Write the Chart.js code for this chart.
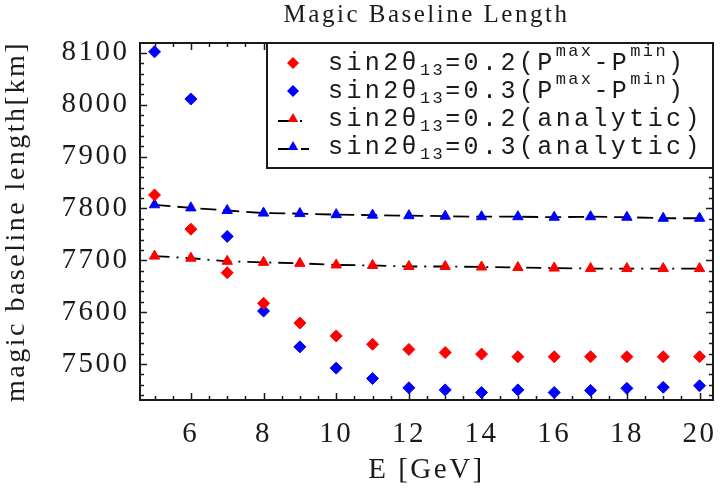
<!DOCTYPE html>
<html>
<head>
<meta charset="utf-8">
<title>Magic Baseline Length</title>
<script src="https://cdn.jsdelivr.net/npm/chart.js@4.4.1/dist/chart.umd.min.js"></script>
<style>
  html, body { margin: 0; padding: 0; background: #fff; }
  #box { width: 720px; height: 503px; }
</style>
</head>
<body>
<div id="box"><canvas id="magicChart"></canvas></div>
<script>
// neutrino energy [GeV]
const energies = [5, 6, 7, 8, 9, 10, 11, 12, 13, 14, 15, 16, 17, 18, 19, 20];

// magic baseline [km] from P^max - P^min
const pdiff02 = [7826, 7760, 7676, 7617, 7579, 7554, 7538, 7528, 7522, 7519, 7514, 7514, 7514, 7514, 7514, 7514];
const pdiff03 = [8102, 8011, 7746, 7602, 7533, 7492, 7472, 7454, 7450, 7445, 7450, 7445, 7449, 7453, 7455, 7458];

// magic baseline [km] from the analytic formula
const analytic02 = [7708, 7704, 7698, 7696, 7694, 7691, 7690, 7688, 7688, 7687, 7686, 7685, 7684, 7684, 7684, 7684];
const analytic03 = [7807, 7801, 7796, 7791, 7790, 7788, 7787, 7786, 7785, 7784, 7784, 7783, 7784, 7783, 7781, 7781];

const seriesLabels = [
  "sin2θ_{13}=0.2(P^{max}-P^{min})",
  "sin2θ_{13}=0.3(P^{max}-P^{min})",
  "sin2θ_{13}=0.2(analytic)",
  "sin2θ_{13}=0.3(analytic)",
];

const xTickValues = [6, 8, 10, 12, 14, 16, 18, 20];
const yTickValues = [7500, 7600, 7700, 7800, 7900, 8000, 8100];

const RED = "#ff0000";
const BLUE = "#0000ff";
const INK = "#1a1a1a";
const SERIF = '"Liberation Serif", "Times New Roman", serif';
const MONO = '"Liberation Mono", "Courier New", monospace';

function points(values) {
  return energies.map((e, i) => ({ x: e, y: values[i] }));
}

// old-style plot text is spaced out a bit
const spacing = {
  id: "spacing",
  beforeUpdate(chart) { chart.ctx.letterSpacing = "2.5px"; },
  beforeDraw(chart) { chart.ctx.letterSpacing = "2.5px"; },
};

// box around the plot with inward ticks on all four sides
const frameTicks = {
  id: "frameTicks",
  beforeDatasetsDraw(chart) {
    const { ctx, chartArea: a, scales: { x, y } } = chart;
    ctx.save();
    ctx.strokeStyle = INK;
    ctx.lineWidth = 1.5;
    ctx.beginPath();
    for (let v = 5; v <= 20; v += 0.5) {
      const px = Math.round(x.getPixelForValue(v)) + 0.5;
      const len = xTickValues.includes(v) ? 7 : 4;
      ctx.moveTo(px, a.bottom); ctx.lineTo(px, a.bottom - len);
      ctx.moveTo(px, a.top); ctx.lineTo(px, a.top + len);
    }
    for (let v = 7440; v <= 8100; v += 20) {
      const py = Math.round(y.getPixelForValue(v)) + 0.5;
      const len = yTickValues.includes(v) ? 7 : 4;
      ctx.moveTo(a.left, py); ctx.lineTo(a.left + len, py);
      ctx.moveTo(a.right, py); ctx.lineTo(a.right - len, py);
    }
    ctx.stroke();
    ctx.lineWidth = 2;
    ctx.strokeRect(a.left, a.top, a.right - a.left, a.bottom - a.top);
    ctx.restore();
  },
};

function drawMarker(ctx, style, cx, cy, r, color) {
  ctx.fillStyle = color;
  ctx.beginPath();
  if (style === "triangle") {
    ctx.moveTo(cx, cy - r);
    ctx.lineTo(cx + r * 0.866, cy + r / 2);
    ctx.lineTo(cx - r * 0.866, cy + r / 2);
  } else {
    ctx.moveTo(cx, cy - r);
    ctx.lineTo(cx + r, cy);
    ctx.lineTo(cx, cy + r);
    ctx.lineTo(cx - r, cy);
  }
  ctx.closePath();
  ctx.fill();
}

// label text with _{sub} and ^{sup} parts
function drawRichText(ctx, text, x, baseline) {
  const parts = text.split(/(_\{[^}]*\}|\^\{[^}]*\})/).filter(Boolean);
  for (const p of parts) {
    let s = p, size = 25, dy = 0;
    if (p.startsWith("_{")) { s = p.slice(2, -1); size = 17; dy = 5; }
    else if (p.startsWith("^{")) { s = p.slice(2, -1); size = 17; dy = -14; }
    ctx.font = size + "px " + MONO;
    ctx.letterSpacing = size > 20 ? "3.4px" : "2.4px";
    ctx.fillText(s, x, baseline + dy);
    x += ctx.measureText(s).width;
  }
}

const boxedLegend = {
  id: "boxedLegend",
  afterDatasetsDraw(chart) {
    const { ctx, chartArea: a } = chart;
    const left = 267, top = a.top, bottom = 168;
    ctx.save();
    ctx.fillStyle = "#fff";
    ctx.fillRect(left, top, a.right - left, bottom - top);
    ctx.strokeStyle = INK;
    ctx.lineWidth = 2;
    ctx.strokeRect(left, top, a.right - left, bottom - top);
    chart.data.datasets.forEach((ds, i) => {
      const baseline = 70 + i * 28;
      const cy = baseline - 7;
      if (ds.showLine) {
        ctx.strokeStyle = ds.borderColor;
        ctx.lineWidth = ds.borderWidth;
        ctx.setLineDash(ds.borderDash);
        ctx.beginPath();
        ctx.moveTo(278, cy + 2);
        ctx.lineTo(309, cy + 2);
        ctx.stroke();
        ctx.setLineDash([]);
      }
      drawMarker(ctx, ds.pointStyle, 293, cy, ds.pointRadius, ds.pointBackgroundColor);
      ctx.fillStyle = INK;
      ctx.textBaseline = "alphabetic";
      ctx.textAlign = "left";
      drawRichText(ctx, ds.label, 328, baseline);
    });
    ctx.restore();
  },
};

const markerSet = (label, values, color) => ({
  label,
  data: points(values),
  showLine: false,
  pointStyle: "rectRot",
  pointRadius: 6,
  pointBackgroundColor: color,
  pointBorderColor: color,
  pointBorderWidth: 1,
});

const lineSet = (label, values, color, dash) => ({
  label,
  data: points(values),
  showLine: true,
  borderColor: "#000",
  borderWidth: 1.8,
  borderDash: dash,
  tension: 0,
  pointStyle: "triangle",
  pointRadius: 6,
  pointBackgroundColor: color,
  pointBorderColor: color,
  pointBorderWidth: 1,
});

new Chart(document.getElementById("magicChart"), {
  type: "scatter",
  data: {
    datasets: [
      markerSet(seriesLabels[0], pdiff02, RED),
      markerSet(seriesLabels[1], pdiff03, BLUE),
      lineSet(seriesLabels[2], analytic02, RED, [15, 7, 2, 7]),
      lineSet(seriesLabels[3], analytic03, BLUE, [16, 7]),
    ],
  },
  options: {
    responsive: true,
    maintainAspectRatio: false,
    animation: false,
    layout: { padding: { left: 0, right: 3, top: 0, bottom: 0 } },
    plugins: {
      legend: { display: false },
      tooltip: { enabled: false },
      title: {
        display: true,
        fullSize: false,
        text: "Magic Baseline Length",
        color: INK,
        font: { family: SERIF, size: 25, weight: "normal" },
        padding: { top: 0, bottom: 13 },
      },
    },
    scales: {
      x: {
        type: "linear",
        min: 4.6,
        max: 20.37,
        grid: { display: false, drawTicks: false },
        border: { display: false },
        afterBuildTicks: (s) => { s.ticks = xTickValues.map((v) => ({ value: v })); },
        afterFit: (s) => {
          s.height = 103;
          s.paddingLeft = 0; s.paddingRight = 0;
        },
        ticks: {
          color: INK,
          padding: 16.5,
          maxRotation: 0,
          autoSkip: false,
          callback: (v) => String(v),
          font: { family: SERIF, size: 29 },
        },
        title: {
          display: true,
          text: "E [GeV]",
          color: INK,
          font: { family: SERIF, size: 29 },
          padding: { top: 0, bottom: 15 },
        },
      },
      y: {
        type: "linear",
        min: 7430.5,
        max: 8119,
        grid: { display: false, drawTicks: false },
        border: { display: false },
        afterBuildTicks: (s) => { s.ticks = yTickValues.map((v) => ({ value: v })); },
        afterFit: (s) => {
          s.width = 140;
          s.paddingTop = 0; s.paddingBottom = 0;
        },
        ticks: {
          color: INK,
          padding: 10.5,
          autoSkip: false,
          callback: (v) => String(v),
          font: { family: SERIF, size: 29 },
        },
        title: {
          display: true,
          text: "magic baseline length[km]",
          color: INK,
          font: { family: SERIF, size: 28 },
          padding: { top: 0, bottom: 0 },
        },
      },
    },
  },
  plugins: [spacing, frameTicks, boxedLegend],
});
</script>
</body>
</html>
